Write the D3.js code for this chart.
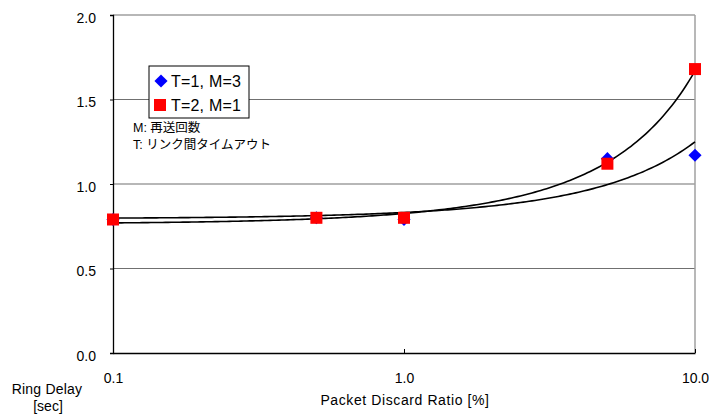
<!DOCTYPE html>
<html>
<head>
<meta charset="utf-8">
<script src="https://cdn.jsdelivr.net/npm/d3@7"></script>
<style>
  body { margin: 0; background: #fff; }
  text { font-family: "Liberation Sans", "Noto Sans CJK JP", sans-serif; fill: #000; }
</style>
</head>
<body>
<div id="chart"></div>
<script>
// data
var ratios = [0.1, 0.5, 1, 5, 10];
var delayT1M3 = [0.79, 0.80, 0.79, 1.15, 1.17];
var delayT2M1 = [0.79, 0.80, 0.80, 1.12, 1.68];
var yTicks = [0, 0.5, 1.0, 1.5, 2.0];
var xTicks = [0.1, 1, 10];
var seriesNames = ["T=1, M=3", "T=2, M=1"];
var notes = ["M: 再送回数", "T: リンク間タイムアウト"];

var W = 709, H = 414;
var margin = { left: 113, right: 14, top: 15, bottom: 61 };
var width = W - margin.left - margin.right,
    height = H - margin.top - margin.bottom;

var svg = d3.select("#chart").append("svg")
    .attr("width", W).attr("height", H);
var g = svg.append("g")
    .attr("transform", "translate(" + margin.left + "," + margin.top + ")");

var x = d3.scaleLog().domain([0.1, 10]).range([0, width]);
var y = d3.scaleLinear().domain([0, 2]).range([height, 0]);

// horizontal gridlines
g.selectAll(".grid").data(yTicks.filter(function(d){ return d > 0; }))
  .enter().append("line")
    .attr("x1", 0).attr("x2", width)
    .attr("y1", function(d){ return y(d); })
    .attr("y2", function(d){ return y(d); })
    .attr("stroke", "#707070").attr("stroke-width", 1.2);

// right border
g.append("line")
    .attr("x1", width).attr("x2", width).attr("y1", 0).attr("y2", height)
    .attr("stroke", "#a0a0a0").attr("stroke-width", 1.5);

// y axis
var yAxis = g.append("g")
    .call(d3.axisLeft(y).tickValues(yTicks).tickFormat(d3.format(".1f"))
      .tickSize(3).tickPadding(14));
yAxis.select(".domain").attr("stroke", "#000").attr("stroke-width", 1.3);
yAxis.selectAll("text").attr("font-size", "14px").attr("dy", "0.5em");

// x axis (ticks point inward)
var xAxis = g.append("g").attr("transform", "translate(0," + height + ")")
    .call(d3.axisBottom(x).tickValues(xTicks).tickFormat(d3.format(".1f"))
      .tickSizeInner(-4).tickSizeOuter(0).tickPadding(20));
xAxis.select(".domain").attr("stroke", "#000").attr("stroke-width", 1.3);
xAxis.selectAll("text").attr("font-size", "14px");

// exponential trendlines (least squares on ln y, as in a spreadsheet)
function expFit(xs, ys) {
  var ly = ys.map(Math.log);
  var mx = d3.mean(xs), my = d3.mean(ly);
  var sxy = d3.sum(xs, function(v, i){ return (v - mx) * (ly[i] - my); });
  var sxx = d3.sum(xs, function(v){ return (v - mx) * (v - mx); });
  var b = sxy / sxx, a = Math.exp(my - b * mx);
  return function(v){ return a * Math.exp(b * v); };
}
var line = d3.line().x(function(d){ return x(d[0]); }).y(function(d){ return y(d[1]); });
var samples = d3.range(0, 201).map(function(i){ return 0.1 * Math.pow(100, i / 200); });
[delayT1M3, delayT2M1].forEach(function(vals){
  var f = expFit(ratios, vals);
  g.append("path")
    .datum(samples.map(function(v){ return [v, f(v)]; }))
    .attr("d", line).attr("fill", "none")
    .attr("stroke", "#000").attr("stroke-width", 1.6);
});

// markers
var diamond = d3.symbol().type(d3.symbolDiamond2).size(110);
g.selectAll(".blue").data(ratios).enter().append("path")
    .attr("d", diamond)
    .attr("transform", function(d, i){ return "translate(" + x(d) + "," + y(delayT1M3[i]) + ")"; })
    .attr("fill", "#0000ff");
g.selectAll(".red").data(ratios).enter().append("rect")
    .attr("x", function(d){ return x(d) - 6; })
    .attr("y", function(d, i){ return y(delayT2M1[i]) - 6; })
    .attr("width", 12).attr("height", 12)
    .attr("fill", "#ff0000");

// legend
var leg = svg.append("g").attr("transform", "translate(149,66)");
leg.append("rect").attr("width", 100).attr("height", 52)
    .attr("fill", "#fff").attr("stroke", "#000").attr("stroke-width", 1);
leg.append("path").attr("d", diamond).attr("transform", "translate(12,15)").attr("fill", "#0000ff");
leg.append("rect").attr("x", 5).attr("y", 33).attr("width", 12).attr("height", 12).attr("fill", "#ff0000");
leg.selectAll(".lt").data(seriesNames).enter().append("text")
    .attr("x", 22).attr("y", function(d, i){ return 21 + i * 24; })
    .attr("font-size", "16px").attr("letter-spacing", "0.2px").text(function(d){ return d; });

svg.selectAll(".note").data(notes).enter().append("text")
    .attr("x", 133).attr("y", function(d, i){ return 132 + i * 17; })
    .attr("font-size", "12.5px").text(function(d){ return d; });

// axis titles
svg.append("text").attr("x", 47).attr("y", 394).attr("text-anchor", "middle")
    .attr("font-size", "14px").attr("letter-spacing", "0.2px").text("Ring Delay");
svg.append("text").attr("x", 48).attr("y", 411).attr("text-anchor", "middle")
    .attr("font-size", "14px").text("[sec]");
svg.append("text").attr("x", 405).attr("y", 405).attr("text-anchor", "middle")
    .attr("font-size", "14px").attr("letter-spacing", "0.6px").text("Packet Discard Ratio [%]");
</script>
</body>
</html>
